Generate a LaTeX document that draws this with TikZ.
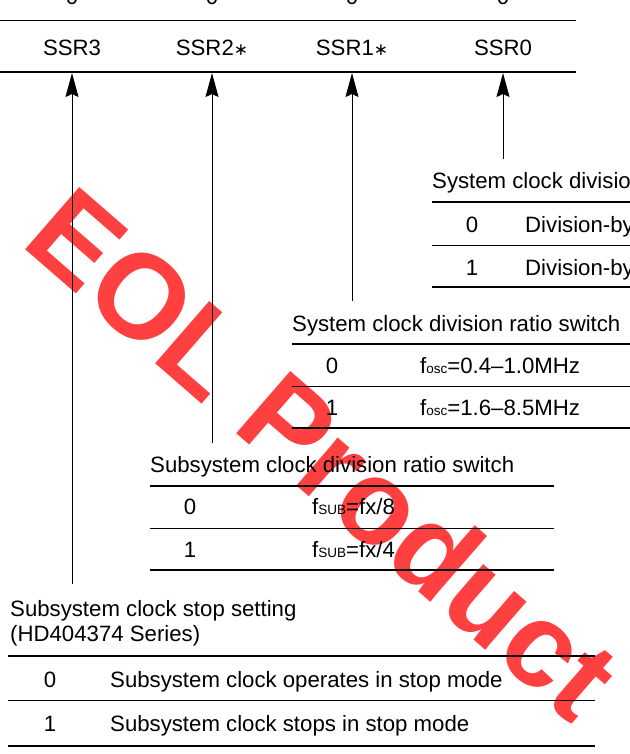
\documentclass[tikz,border=0pt]{standalone}
\usepackage{fontspec}
\setmainfont{Liberation Sans}
\newfontfamily\symfont{DejaVu Sans}
\usetikzlibrary{arrows.meta}

\newcommand{\subtxt}[1]{{\fontsize{13.5}{14}\selectfont #1}}
\newcommand{\starmark}{{\symfont\fontsize{17}{18}\selectfont ∗}}

\begin{document}
\begin{tikzpicture}[x=1pt,y=-1pt,font=\fontsize{22.2}{26}\selectfont]
    \tikzstyle{reg text}=[inner sep=0pt,anchor=base]
    \tikzstyle{row text}=[inner sep=0pt,anchor=base west]
    \tikzstyle{thin rule}=[line width=1pt]
    \tikzstyle{thick rule}=[line width=2pt]
    \tikzstyle{pointer}=[line width=1pt,-{Stealth[length=24pt,width=13pt,inset=3pt]}]
    \tikzstyle{stamp}=[text=red,opacity=0.75,rotate=-41,inner sep=0pt,
        font=\fontsize{120}{120}\bfseries\selectfont]
    \useasboundingbox (0,0) rectangle (629,754);
    % Stamp behind everything
    \node[stamp] (eol) at (324,453) {EOL Product};
    % Draw the register
    \foreach \x in {72,212,352,503}
        \node[reg text] at (\x,5) {0};
    \draw[thin rule] (0,21) -- (576,21);
    \draw[thick rule] (0,72) -- (576,72);
    \coordinate (reg) at (0,73);
    \foreach \name / \x / \i in {SSR3/72/3, SSR2\starmark/212/2, SSR1\starmark/352/1, SSR0/503/0}
        \node[reg text] (r-\i) at (\x,56) {\name};
    % Draw the SSR0 table
    \node[row text] (t-0) at (432,189) {System clock division};
    \draw[thick rule] (432,202) -- (640,202);
    \draw[thin rule] (432,245) -- (640,245);
    \draw[thick rule] (432,287) -- (640,287);
    \node[reg text] at (472,232) {0};
    \node[row text] at (525,232) {Division-by};
    \node[reg text] at (472,275) {1};
    \node[row text] at (525,275) {Division-by};
    % Draw the SSR1 table
    \node[row text] (t-1) at (292,331) {System clock division ratio switch};
    \draw[thick rule] (292,344) -- (640,344);
    \draw[thin rule] (292,386) -- (640,386);
    \draw[thick rule] (292,428) -- (640,428);
    \node[reg text] at (332,373) {0};
    \node[row text] at (420,373) {f\subtxt{osc}=0.4–1.0MHz};
    \node[reg text] at (332,415) {1};
    \node[row text] at (420,415) {f\subtxt{osc}=1.6–8.5MHz};
    % Draw the SSR2 table
    \node[row text] (t-2) at (150,472) {Subsystem clock division ratio switch};
    \draw[thick rule] (150,486) -- (554,486);
    \draw[thin rule] (150,528) -- (554,528);
    \draw[thick rule] (150,570) -- (554,570);
    \node[reg text] at (190,514) {0};
    \node[row text] at (312,514) {f\subtxt{SUB}=fx/8};
    \node[reg text] at (190,557) {1};
    \node[row text] at (312,557) {f\subtxt{SUB}=fx/4};
    % Draw the SSR3 table
    \node[row text] (t-3) at (10,616) {Subsystem clock stop setting};
    \node[row text] at (10,641) {(HD404374 Series)};
    \draw[thick rule] (8,656) -- (595,656);
    \draw[thin rule] (8,700) -- (595,700);
    \draw[thick rule] (8,746) -- (595,746);
    \node[reg text] at (50,687) {0};
    \node[row text] at (110,687) {Subsystem clock operates in stop mode};
    \node[reg text] at (50,731) {1};
    \node[row text] at (110,731) {Subsystem clock stops in stop mode};
    % Connect every table with its bit
    \foreach \i / \x / \y in {0/503/159, 1/352/301, 2/212/443, 3/72/584} {
        \coordinate (s-\i) at (\x,\y);
        \draw[pointer] (s-\i) -- (s-\i |- reg);
    }
\end{tikzpicture}
\end{document}
